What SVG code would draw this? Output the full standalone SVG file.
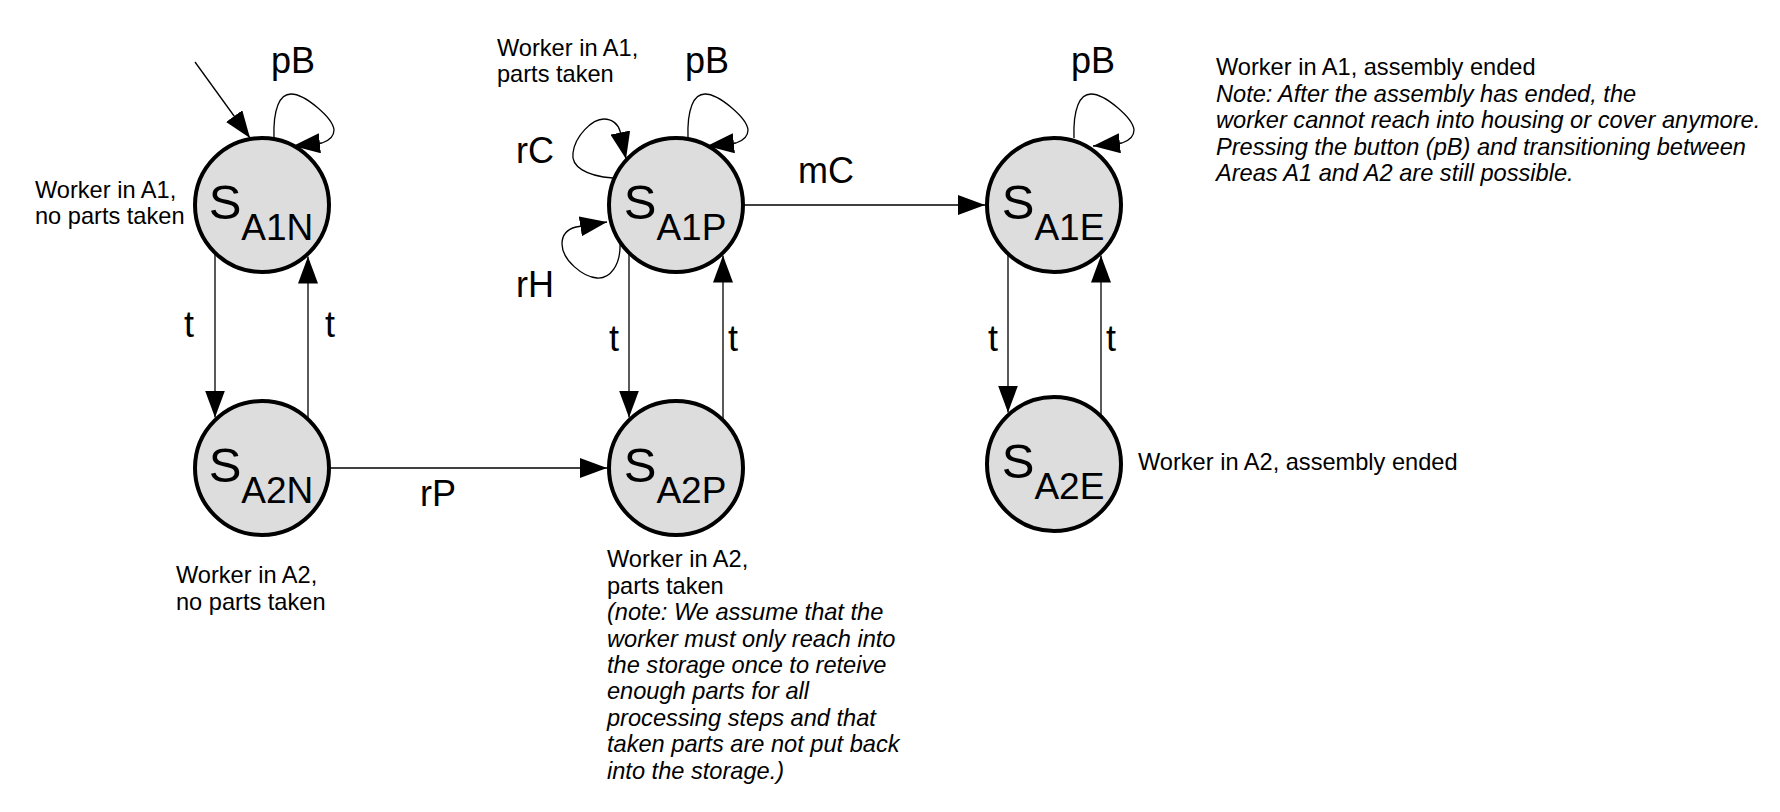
<svg xmlns="http://www.w3.org/2000/svg" width="1780" height="812" viewBox="0 0 1780 812">
<defs>
<style>
.node circle{fill:#dddddd;stroke:#000;stroke-width:4}
.st{font-family:"Liberation Sans",Arial,sans-serif;fill:#000;text-anchor:middle}
.s{font-size:49px}
.sub{font-size:37px}
.lbl{font-family:"Liberation Sans",Arial,sans-serif;font-size:36px;fill:#000}
.txt{font-family:"Liberation Sans",Arial,sans-serif;font-size:23.6px;fill:#000}
.it{font-style:italic}
.edge{fill:none;stroke:#000;stroke-width:1.3;marker-end:url(#arr)}
</style>
<marker id="arr" viewBox="0 0 27 20" refX="27" refY="10" markerWidth="27" markerHeight="20" markerUnits="userSpaceOnUse" orient="auto">
<path d="M0,0 L27,10 L0,20 z" fill="#000"/>
</marker>
</defs>
<rect width="1780" height="812" fill="#fff"/>

<g id="connectors">
<path class="edge" d="M195,62 L250,138"/>
<path class="edge" d="M274,138 C273,108 280,94 291,94 C305,94 333,118 334,130 C334,137 328,141 322,143 L293,146"/>
<path class="edge" d="M688,138 C687,108 694,94 705,94 C719,94 747,118 748,130 C748,137 742,141 736,143 L707,146"/>
<path class="edge" d="M1074,138 C1073,108 1080,94 1091,94 C1105,94 1133,118 1134,130 C1134,137 1128,141 1122,143 L1093,146"/>
<path class="edge" d="M613,178 C585,176 571,166 573,153 C575,136 592,119 604,119 C612,119 618,124 620,131 L626,159"/>
<path class="edge" d="M620,243 C621,265 610,279 597,278 C583,277 562,260 562,244 C562,234 568,229 576,227 L607,222"/>
<path class="edge" d="M215,253 L215,417.5"/>
<path class="edge" d="M308,419 L308,256.5"/>
<path class="edge" d="M629,253 L629,417.5"/>
<path class="edge" d="M723,420 L723,255.5"/>
<path class="edge" d="M1008,253.5 L1008,412.5"/>
<path class="edge" d="M1101,416 L1101,255.5"/>
<path class="edge" d="M743,205 L985,205"/>
<path class="edge" d="M329,468 L607,468"/>
<text class="lbl" x="271" y="73">pB</text>
<text class="lbl" x="685" y="73">pB</text>
<text class="lbl" x="1071" y="73">pB</text>
<text class="lbl" x="516" y="163">rC</text>
<text class="lbl" x="516" y="297">rH</text>
<text class="lbl" x="798" y="183">mC</text>
<text class="lbl" x="420" y="506">rP</text>
<text class="lbl" x="184" y="337">t</text>
<text class="lbl" x="325" y="337">t</text>
<text class="lbl" x="609" y="351">t</text>
<text class="lbl" x="728" y="351">t</text>
<text class="lbl" x="988" y="351">t</text>
<text class="lbl" x="1106" y="351">t</text>
</g>

<g id="S_A1N" class="node">
<circle cx="262" cy="205" r="67"/>
<text class="st" x="261" y="219"><tspan class="s">S</tspan><tspan class="sub" dy="21">A1N</tspan></text>
<text class="txt" x="35" y="198">Worker in A1,</text>
<text class="txt" x="35" y="224">no parts taken</text>
</g>

<g id="S_A2N" class="node">
<circle cx="262" cy="468" r="67"/>
<text class="st" x="261" y="482"><tspan class="s">S</tspan><tspan class="sub" dy="21">A2N</tspan></text>
<text class="txt" x="176" y="583">Worker in A2,</text>
<text class="txt" x="176" y="610">no parts taken</text>
</g>

<g id="S_A1P" class="node">
<circle cx="676" cy="205" r="67"/>
<text class="st" x="675" y="219"><tspan class="s">S</tspan><tspan class="sub" dy="21">A1P</tspan></text>
<text class="txt" x="497" y="56">Worker in A1,</text>
<text class="txt" x="497" y="82">parts taken</text>
</g>

<g id="S_A2P" class="node">
<circle cx="676" cy="468" r="67"/>
<text class="st" x="675" y="482"><tspan class="s">S</tspan><tspan class="sub" dy="21">A2P</tspan></text>
<text class="txt" x="607" y="567">Worker in A2,</text>
<text class="txt" x="607" y="594">parts taken</text>
<text class="txt it" x="607" y="620">(note: We assume that the</text>
<text class="txt it" x="607" y="647">worker must only reach into</text>
<text class="txt it" x="607" y="673">the storage once to reteive</text>
<text class="txt it" x="607" y="699">enough parts for all</text>
<text class="txt it" x="607" y="726">processing steps and that</text>
<text class="txt it" x="607" y="752">taken parts are not put back</text>
<text class="txt it" x="607" y="779">into the storage.)</text>
</g>

<g id="S_A1E" class="node">
<circle cx="1054" cy="205" r="67"/>
<text class="st" x="1053" y="219"><tspan class="s">S</tspan><tspan class="sub" dy="21">A1E</tspan></text>
<text class="txt" x="1216" y="75">Worker in A1, assembly ended</text>
<text class="txt it" x="1216" y="101.5">Note: After the assembly has ended, the</text>
<text class="txt it" x="1216" y="128">worker cannot reach into housing or cover anymore.</text>
<text class="txt it" x="1216" y="154.5">Pressing the button (pB) and transitioning between</text>
<text class="txt it" x="1216" y="181">Areas A1 and A2 are still possible.</text>
</g>

<g id="S_A2E" class="node">
<circle cx="1054" cy="464" r="67"/>
<text class="st" x="1053" y="478"><tspan class="s">S</tspan><tspan class="sub" dy="21">A2E</tspan></text>
<text class="txt" x="1138" y="470">Worker in A2, assembly ended</text>
</g>
</svg>
